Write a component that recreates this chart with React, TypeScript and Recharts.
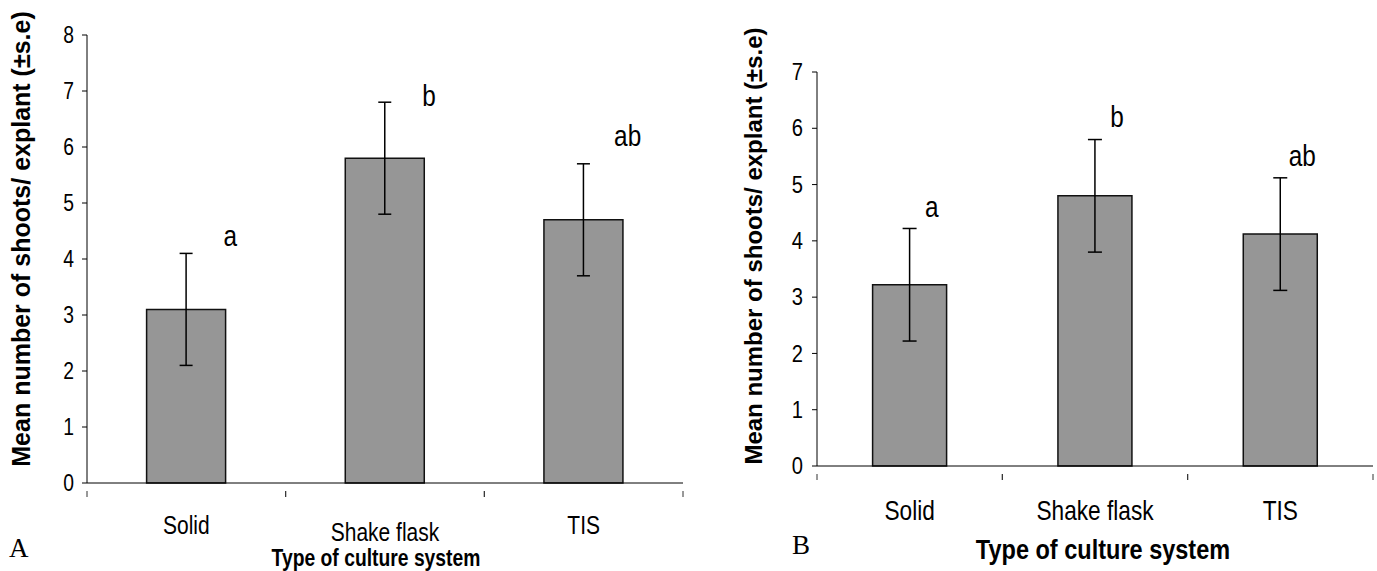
import { BarChart, Bar, XAxis, YAxis, ErrorBar, ReferenceDot } from 'recharts';

const categories = ['Solid', 'Shake flask', 'TIS'];

// panel A
const meansA = [3.1, 5.8, 4.7];
const errorsA = [1.0, 1.0, 1.0];
const lettersA = ['a', 'b', 'ab'];
const letterHeightsA = [4.4, 6.9, 6.2];
const yTicksA = [0, 1, 2, 3, 4, 5, 6, 7, 8];

// panel B
const meansB = [3.22, 4.8, 4.12];
const errorsB = [1.0, 1.0, 1.0];
const lettersB = ['a', 'b', 'ab'];
const letterHeightsB = [4.6, 6.2, 5.5];
const yTicksB = [0, 1, 2, 3, 4, 5, 6, 7];

const yLabel = 'Mean number of shoots/ explant (\u00b1s.e)';
const xLabel = 'Type of culture system';

const SANS = "'Liberation Sans', Arial, sans-serif";
const SERIF = "'Liberation Serif', 'Times New Roman', serif";
const SQUEEZE = 0.84; // the original uses a condensed face

function NarrowText({ x, y, size, bold, anchor = 'middle', children }: any) {
  return (
    <text
      transform={`translate(${x} ${y}) scale(${SQUEEZE} 1)`}
      textAnchor={anchor}
      dominantBaseline="central"
      fontFamily={SANS}
      fontWeight={bold ? 'bold' : 'normal'}
      style={{ fontSize: size }}
      fill="#000"
    >
      {children}
    </text>
  );
}

type PanelProps = {
  means: number[];
  errors: number[];
  letters: string[];
  letterHeights: number[];
  yTicks: number[];
  width: number;
  height: number;
  margin: { top: number; right: number; bottom: number; left: number };
  yAxisWidth: number;
  xAxisHeight: number;
  tickFont: number;
  tickGap: number;
  catFont: number;
  catDy: number;
  dropIndex?: number;
  yLabelFont: number;
  yLabelX: number;
  yLabelShift: number;
  titleFont: number;
  titleDx: number;
  titleDy: number;
  letterFont: number;
  letterDx: number;
  capWidth: number;
};

function CategoryTick(props: any) {
  const { x, y, payload, index, labelSize, labelDy, dropIndex } = props;
  const half = payload?.offset ?? 0;
  const drop = index === dropIndex ? 7 : 0;
  return (
    <g>
      <line x1={x - half} y1={y} x2={x - half} y2={y + 6} stroke="#333" strokeWidth={1} />
      <line x1={x + half} y1={y} x2={x + half} y2={y + 6} stroke="#333" strokeWidth={1} />
      <NarrowText x={x} y={y + labelDy + drop} size={labelSize}>
        {payload.value}
      </NarrowText>
    </g>
  );
}

function Panel(p: PanelProps) {
  const data = categories.map((name, i) => ({
    name,
    mean: p.means[i],
    err: p.errors[i],
  }));
  const yMax = p.yTicks[p.yTicks.length - 1];

  const renderValueTick = (tp: any) => (
    <NarrowText x={tp.x} y={tp.y} size={p.tickFont} anchor="end">
      {tp.payload.value}
    </NarrowText>
  );

  return (
    <BarChart width={p.width} height={p.height} data={data} margin={p.margin} barCategoryGap="30%">
      <XAxis
        dataKey="name"
        height={p.xAxisHeight}
        axisLine={{ stroke: '#000', strokeWidth: 1 }}
        tickLine={false}
        interval={0}
        tick={<CategoryTick labelSize={p.catFont} labelDy={p.catDy} dropIndex={p.dropIndex} />}
        label={(lp: any) => {
          const vb = lp.viewBox;
          return (
            <NarrowText x={vb.x + vb.width / 2 + p.titleDx} y={vb.y + p.titleDy} size={p.titleFont} bold>
              {xLabel}
            </NarrowText>
          );
        }}
      />
      <YAxis
        type="number"
        domain={[0, yMax]}
        ticks={p.yTicks}
        interval={0}
        width={p.yAxisWidth}
        axisLine={{ stroke: '#000', strokeWidth: 1 }}
        tickLine={{ stroke: '#000', strokeWidth: 1 }}
        tickSize={5}
        tickMargin={p.tickGap}
        tick={renderValueTick}
        label={(lp: any) => {
          const vb = lp.viewBox;
          const cy = vb.y + vb.height / 2 + p.yLabelShift;
          return (
            <text
              x={p.yLabelX}
              y={cy}
              transform={`rotate(-90, ${p.yLabelX}, ${cy})`}
              textAnchor="middle"
              dominantBaseline="central"
              fontFamily={SANS}
              fontWeight="bold"
              fontSize={p.yLabelFont}
              fill="#000"
            >
              {yLabel}
            </text>
          );
        }}
      />
      <Bar dataKey="mean" fill="#969696" stroke="#111" strokeWidth={1.5} isAnimationActive={false}>
        <ErrorBar dataKey="err" width={p.capWidth} stroke="#000" strokeWidth={1.5} direction="y" />
      </Bar>
      {categories.map((c, i) => (
        <ReferenceDot
          key={c}
          x={c}
          y={p.letterHeights[i]}
          r={0}
          fill="none"
          stroke="none"
          label={(lp: any) => {
            const vb = lp.viewBox;
            return (
              <NarrowText
                x={vb.x + (vb.width || 0) / 2 + p.letterDx}
                y={vb.y + (vb.height || 0) / 2}
                size={p.letterFont}
              >
                {p.letters[i]}
              </NarrowText>
            );
          }}
        />
      ))}
    </BarChart>
  );
}

export default function App() {
  return (
    <div
      style={{
        position: 'absolute',
        left: 0,
        top: 0,
        width: 1377,
        height: 571,
        background: '#fff',
        overflow: 'hidden',
      }}
    >
      <div style={{ position: 'absolute', left: 0, top: 0 }}>
        <Panel
          means={meansA}
          errors={errorsA}
          letters={lettersA}
          letterHeights={letterHeightsA}
          yTicks={yTicksA}
          width={700}
          height={571}
          margin={{ top: 35, right: 17, bottom: 0, left: 0 }}
          yAxisWidth={87}
          xAxisHeight={88}
          tickFont={23}
          tickGap={8}
          catFont={25}
          catDy={34}
          dropIndex={1}
          yLabelFont={25}
          yLabelX={21}
          yLabelShift={-20}
          titleFont={23}
          titleDx={-9}
          titleDy={75}
          letterFont={29}
          letterDx={44}
          capWidth={6.5}
        />
      </div>
      <div style={{ position: 'absolute', left: 700, top: 0 }}>
        <Panel
          means={meansB}
          errors={errorsB}
          letters={lettersB}
          letterHeights={letterHeightsB}
          yTicks={yTicksB}
          width={677}
          height={571}
          margin={{ top: 72, right: 4, bottom: 0, left: 0 }}
          yAxisWidth={117}
          xAxisHeight={105}
          tickFont={24}
          tickGap={9}
          catFont={27}
          catDy={36}
          yLabelFont={24}
          yLabelX={53}
          yLabelShift={-23}
          titleFont={28}
          titleDx={8}
          titleDy={83}
          letterFont={29}
          letterDx={22}
          capWidth={7}
        />
      </div>
      <div
        style={{
          position: 'absolute',
          left: 9,
          top: 530,
          fontFamily: SERIF,
          fontSize: 27,
          lineHeight: '36px',
          color: '#000',
        }}
      >
        A
      </div>
      <div
        style={{
          position: 'absolute',
          left: 792,
          top: 527,
          fontFamily: SERIF,
          fontSize: 27,
          lineHeight: '36px',
          color: '#000',
        }}
      >
        B
      </div>
    </div>
  );
}
